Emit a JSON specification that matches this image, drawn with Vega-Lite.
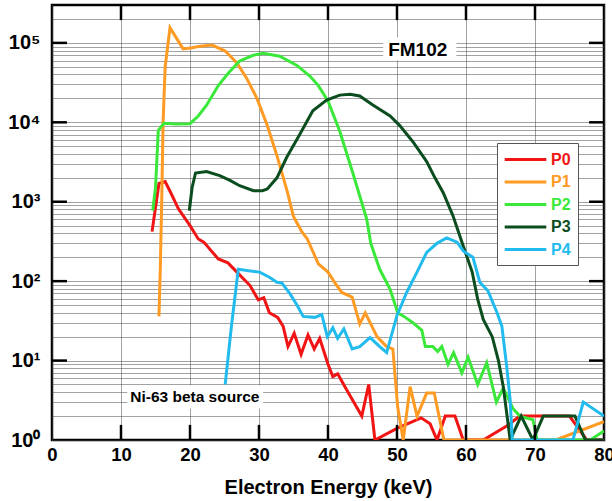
{
  "$schema": "https://vega.github.io/schema/vega-lite/v6.json",
  "width": 552,
  "height": 435,
  "autosize": "none",
  "padding": {"left": 52, "top": 5, "right": 8, "bottom": 61},
  "config": {
    "font": "Liberation Sans",
    "view": {"stroke": "black", "strokeWidth": 2.5},
    "axis": {"domain": false, "ticks": false, "gridColor": "#444", "gridDash": [1, 1], "gridWidth": 1, "labelFont": "Liberation Sans", "labelFontWeight": "bold", "labelColor": "black", "titleColor": "black"}
  },
  "datasets": {
    "spectra": [
      {"series": "P0", "energy": 14.5, "counts": 420},
      {"series": "P0", "energy": 15.5, "counts": 1700},
      {"series": "P0", "energy": 16.4, "counts": 1790},
      {"series": "P0", "energy": 17.3, "counts": 1250},
      {"series": "P0", "energy": 18.3, "counts": 820},
      {"series": "P0", "energy": 20.0, "counts": 500},
      {"series": "P0", "energy": 21.2, "counts": 340},
      {"series": "P0", "energy": 22.0, "counts": 310},
      {"series": "P0", "energy": 24.1, "counts": 190},
      {"series": "P0", "energy": 25.5, "counts": 170},
      {"series": "P0", "energy": 26.8, "counts": 130},
      {"series": "P0", "energy": 28.7, "counts": 88},
      {"series": "P0", "energy": 29.9, "counts": 58},
      {"series": "P0", "energy": 30.7, "counts": 62},
      {"series": "P0", "energy": 31.5, "counts": 40},
      {"series": "P0", "energy": 32.7, "counts": 35},
      {"series": "P0", "energy": 33.5, "counts": 27},
      {"series": "P0", "energy": 34.2, "counts": 15},
      {"series": "P0", "energy": 35.1, "counts": 22},
      {"series": "P0", "energy": 36.1, "counts": 12},
      {"series": "P0", "energy": 37.1, "counts": 21},
      {"series": "P0", "energy": 38.0, "counts": 14},
      {"series": "P0", "energy": 38.8, "counts": 19},
      {"series": "P0", "energy": 40.0, "counts": 9},
      {"series": "P0", "energy": 40.7, "counts": 6.3},
      {"series": "P0", "energy": 41.4, "counts": 6.8},
      {"series": "P0", "energy": 42.7, "counts": 4.3},
      {"series": "P0", "energy": 44.9, "counts": 2},
      {"series": "P0", "energy": 45.9, "counts": 5},
      {"series": "P0", "energy": 46.8, "counts": 1},
      {"series": "P0", "energy": 50.0, "counts": 1.4},
      {"series": "P0", "energy": 53.5, "counts": 1.9},
      {"series": "P0", "energy": 54.8, "counts": 1.6},
      {"series": "P0", "energy": 55.8, "counts": 1},
      {"series": "P0", "energy": 57.0, "counts": 2},
      {"series": "P0", "energy": 58.4, "counts": 2},
      {"series": "P0", "energy": 59.6, "counts": 1},
      {"series": "P0", "energy": 62.5, "counts": 1},
      {"series": "P0", "energy": 65.9, "counts": 1.5},
      {"series": "P0", "energy": 67.8, "counts": 2},
      {"series": "P0", "energy": 75.0, "counts": 2},
      {"series": "P0", "energy": 77.5, "counts": 1},
      {"series": "P0", "energy": 80.0, "counts": 1},

      {"series": "P1", "energy": 15.5, "counts": 36},
      {"series": "P1", "energy": 15.7, "counts": 150},
      {"series": "P1", "energy": 15.9, "counts": 1000},
      {"series": "P1", "energy": 16.1, "counts": 10000},
      {"series": "P1", "energy": 16.4, "counts": 50000},
      {"series": "P1", "energy": 17.1, "counts": 155000},
      {"series": "P1", "energy": 19.0, "counts": 84000},
      {"series": "P1", "energy": 20.3, "counts": 87000},
      {"series": "P1", "energy": 21.5, "counts": 91000},
      {"series": "P1", "energy": 23.2, "counts": 94000},
      {"series": "P1", "energy": 25.1, "counts": 79000},
      {"series": "P1", "energy": 26.8, "counts": 56000},
      {"series": "P1", "energy": 28.2, "counts": 36000},
      {"series": "P1", "energy": 29.7, "counts": 20000},
      {"series": "P1", "energy": 31.2, "counts": 9100},
      {"series": "P1", "energy": 32.6, "counts": 3800},
      {"series": "P1", "energy": 34.1, "counts": 1340},
      {"series": "P1", "energy": 35.0, "counts": 650},
      {"series": "P1", "energy": 36.2, "counts": 420},
      {"series": "P1", "energy": 37.0, "counts": 340},
      {"series": "P1", "energy": 38.6, "counts": 165},
      {"series": "P1", "energy": 40.0, "counts": 130},
      {"series": "P1", "energy": 41.0, "counts": 95},
      {"series": "P1", "energy": 42.0, "counts": 72},
      {"series": "P1", "energy": 43.5, "counts": 63},
      {"series": "P1", "energy": 44.6, "counts": 29},
      {"series": "P1", "energy": 45.4, "counts": 40},
      {"series": "P1", "energy": 47.1, "counts": 20},
      {"series": "P1", "energy": 48.5, "counts": 15},
      {"series": "P1", "energy": 49.4, "counts": 14},
      {"series": "P1", "energy": 50.1, "counts": 2.6},
      {"series": "P1", "energy": 50.9, "counts": 1},
      {"series": "P1", "energy": 51.9, "counts": 4.7},
      {"series": "P1", "energy": 52.9, "counts": 2},
      {"series": "P1", "energy": 54.3, "counts": 3.9},
      {"series": "P1", "energy": 55.4, "counts": 3.9},
      {"series": "P1", "energy": 56.8, "counts": 1},
      {"series": "P1", "energy": 73.0, "counts": 1},
      {"series": "P1", "energy": 80.0, "counts": 1.7},

      {"series": "P2", "energy": 14.6, "counts": 770},
      {"series": "P2", "energy": 15.0, "counts": 1500},
      {"series": "P2", "energy": 15.4, "counts": 7900},
      {"series": "P2", "energy": 16.2, "counts": 9700},
      {"series": "P2", "energy": 18.0, "counts": 9500},
      {"series": "P2", "energy": 20.0, "counts": 9600},
      {"series": "P2", "energy": 21.2, "counts": 12000},
      {"series": "P2", "energy": 22.4, "counts": 16400},
      {"series": "P2", "energy": 24.1, "counts": 29000},
      {"series": "P2", "energy": 25.6, "counts": 42000},
      {"series": "P2", "energy": 27.2, "counts": 59000},
      {"series": "P2", "energy": 29.2, "counts": 70000},
      {"series": "P2", "energy": 30.6, "counts": 74000},
      {"series": "P2", "energy": 33.0, "counts": 68000},
      {"series": "P2", "energy": 35.5, "counts": 52000},
      {"series": "P2", "energy": 37.4, "counts": 38000},
      {"series": "P2", "energy": 38.6, "counts": 29000},
      {"series": "P2", "energy": 40.0, "counts": 18600},
      {"series": "P2", "energy": 41.7, "counts": 7700},
      {"series": "P2", "energy": 43.6, "counts": 2300},
      {"series": "P2", "energy": 45.6, "counts": 610},
      {"series": "P2", "energy": 46.2, "counts": 300},
      {"series": "P2", "energy": 46.8, "counts": 210},
      {"series": "P2", "energy": 47.5, "counts": 141},
      {"series": "P2", "energy": 49.0, "counts": 79},
      {"series": "P2", "energy": 50.1, "counts": 40},
      {"series": "P2", "energy": 51.0, "counts": 36},
      {"series": "P2", "energy": 52.3, "counts": 30},
      {"series": "P2", "energy": 53.6, "counts": 24},
      {"series": "P2", "energy": 54.1, "counts": 15},
      {"series": "P2", "energy": 55.2, "counts": 15},
      {"series": "P2", "energy": 55.9, "counts": 13},
      {"series": "P2", "energy": 56.5, "counts": 15},
      {"series": "P2", "energy": 57.4, "counts": 9},
      {"series": "P2", "energy": 58.2, "counts": 12.6},
      {"series": "P2", "energy": 59.4, "counts": 7},
      {"series": "P2", "energy": 60.3, "counts": 11},
      {"series": "P2", "energy": 61.7, "counts": 5},
      {"series": "P2", "energy": 63.0, "counts": 9.4},
      {"series": "P2", "energy": 64.4, "counts": 3},
      {"series": "P2", "energy": 65.4, "counts": 4.5},
      {"series": "P2", "energy": 66.8, "counts": 2.5},
      {"series": "P2", "energy": 67.8, "counts": 2},
      {"series": "P2", "energy": 69.7, "counts": 1.8},
      {"series": "P2", "energy": 70.3, "counts": 1},
      {"series": "P2", "energy": 78.0, "counts": 1},
      {"series": "P2", "energy": 80.0, "counts": 1.3},

      {"series": "P3", "energy": 19.9, "counts": 770},
      {"series": "P3", "energy": 20.3, "counts": 1500},
      {"series": "P3", "energy": 20.8, "counts": 2300},
      {"series": "P3", "energy": 22.4, "counts": 2400},
      {"series": "P3", "energy": 24.3, "counts": 2130},
      {"series": "P3", "energy": 25.8, "counts": 1860},
      {"series": "P3", "energy": 27.2, "counts": 1590},
      {"series": "P3", "energy": 29.2, "counts": 1380},
      {"series": "P3", "energy": 30.5, "counts": 1380},
      {"series": "P3", "energy": 31.2, "counts": 1450},
      {"series": "P3", "energy": 32.6, "counts": 2000},
      {"series": "P3", "energy": 34.0, "counts": 3600},
      {"series": "P3", "energy": 35.9, "counts": 7000},
      {"series": "P3", "energy": 37.8, "counts": 14000},
      {"series": "P3", "energy": 39.8, "counts": 19000},
      {"series": "P3", "energy": 41.7, "counts": 22000},
      {"series": "P3", "energy": 43.2, "counts": 22500},
      {"series": "P3", "energy": 44.6, "counts": 21500},
      {"series": "P3", "energy": 46.5, "counts": 16500},
      {"series": "P3", "energy": 49.0, "counts": 12000},
      {"series": "P3", "energy": 50.4, "counts": 9100},
      {"series": "P3", "energy": 52.3, "counts": 5700},
      {"series": "P3", "energy": 54.3, "counts": 3200},
      {"series": "P3", "energy": 55.5, "counts": 2000},
      {"series": "P3", "energy": 56.7, "counts": 1300},
      {"series": "P3", "energy": 58.1, "counts": 670},
      {"series": "P3", "energy": 59.6, "counts": 277},
      {"series": "P3", "energy": 60.9, "counts": 130},
      {"series": "P3", "energy": 61.7, "counts": 59},
      {"series": "P3", "energy": 62.5, "counts": 33},
      {"series": "P3", "energy": 63.8, "counts": 20},
      {"series": "P3", "energy": 64.7, "counts": 10},
      {"series": "P3", "energy": 65.4, "counts": 4.7},
      {"series": "P3", "energy": 66.4, "counts": 1},
      {"series": "P3", "energy": 68.0, "counts": 2},
      {"series": "P3", "energy": 69.7, "counts": 1},
      {"series": "P3", "energy": 71.2, "counts": 2},
      {"series": "P3", "energy": 75.8, "counts": 2},
      {"series": "P3", "energy": 77.3, "counts": 1},
      {"series": "P3", "energy": 80.0, "counts": 1},

      {"series": "P4", "energy": 25.1, "counts": 5},
      {"series": "P4", "energy": 26.0, "counts": 27},
      {"series": "P4", "energy": 27.0, "counts": 141},
      {"series": "P4", "energy": 28.5, "counts": 135},
      {"series": "P4", "energy": 30.1, "counts": 130},
      {"series": "P4", "energy": 31.5, "counts": 112},
      {"series": "P4", "energy": 32.6, "counts": 97},
      {"series": "P4", "energy": 33.3, "counts": 95},
      {"series": "P4", "energy": 34.5, "counts": 69},
      {"series": "P4", "energy": 35.5, "counts": 50},
      {"series": "P4", "energy": 36.4, "counts": 36},
      {"series": "P4", "energy": 38.1, "counts": 35},
      {"series": "P4", "energy": 39.1, "counts": 38},
      {"series": "P4", "energy": 39.9, "counts": 20},
      {"series": "P4", "energy": 40.7, "counts": 26},
      {"series": "P4", "energy": 41.4, "counts": 19},
      {"series": "P4", "energy": 42.3, "counts": 25},
      {"series": "P4", "energy": 43.5, "counts": 14},
      {"series": "P4", "energy": 44.6, "counts": 15},
      {"series": "P4", "energy": 46.1, "counts": 19.5},
      {"series": "P4", "energy": 47.5, "counts": 15},
      {"series": "P4", "energy": 48.5, "counts": 12.6},
      {"series": "P4", "energy": 50.0, "counts": 37},
      {"series": "P4", "energy": 51.4, "counts": 72},
      {"series": "P4", "energy": 52.9, "counts": 130},
      {"series": "P4", "energy": 54.3, "counts": 230},
      {"series": "P4", "energy": 55.8, "counts": 300},
      {"series": "P4", "energy": 57.2, "counts": 350},
      {"series": "P4", "energy": 58.7, "counts": 310},
      {"series": "P4", "energy": 59.6, "counts": 240},
      {"series": "P4", "energy": 61.0, "counts": 200},
      {"series": "P4", "energy": 62.0, "counts": 97},
      {"series": "P4", "energy": 63.2, "counts": 75},
      {"series": "P4", "energy": 64.5, "counts": 40},
      {"series": "P4", "energy": 65.2, "counts": 27},
      {"series": "P4", "energy": 65.9, "counts": 8.4},
      {"series": "P4", "energy": 66.4, "counts": 3.2},
      {"series": "P4", "energy": 66.7, "counts": 1},
      {"series": "P4", "energy": 75.5, "counts": 1},
      {"series": "P4", "energy": 77.0, "counts": 3},
      {"series": "P4", "energy": 80.0, "counts": 2}
    ],
    "notes": [
      {"label": "FM102", "energy": 53, "counts": 81500},
      {"label": "Ni-63 beta source", "energy": 20.7, "counts": 3.5}
    ],
    "yticks": [{"v": 10}, {"v": 100}, {"v": 1000}, {"v": 10000}, {"v": 100000}],
    "xticks": [{"v": 10}, {"v": 20}, {"v": 30}, {"v": 40}, {"v": 50}, {"v": 60}, {"v": 70}]
  },
  "resolve": {"axis": {"x": "independent", "y": "independent"}},
  "layer": [
    {
      "data": {"values": [{}]},
      "mark": {"type": "rect", "fill": "white"},
      "encoding": {
        "x": {"datum": 48.0, "type": "quantitative", "scale": {"domain": [0, 80]}, "axis": null},
        "x2": {"datum": 58.6},
        "y": {"datum": 118000, "type": "quantitative", "scale": {"type": "log", "domain": [1, 300000]}, "axis": null},
        "y2": {"datum": 60000}
      }
    },
    {
      "data": {"values": [{}]},
      "mark": {"type": "rect", "fill": "white"},
      "encoding": {
        "x": {"datum": 10.9, "type": "quantitative", "scale": {"domain": [0, 80]}, "axis": null},
        "x2": {"datum": 30.6},
        "y": {"datum": 4.9, "type": "quantitative", "scale": {"type": "log", "domain": [1, 300000]}, "axis": null},
        "y2": {"datum": 2.5}
      }
    },
    {
      "data": {"name": "spectra"},
      "mark": {"type": "line", "strokeWidth": 3, "clip": true},
      "encoding": {
        "x": {
          "field": "energy", "type": "quantitative",
          "scale": {"domain": [0, 80]},
          "axis": {
            "orient": "bottom", "values": [0, 10, 20, 30, 40, 50, 60, 70, 80], "format": "d",
            "grid": true, "ticks": false, "labelPadding": 5, "labelFontSize": 18.5, "labelFlush": false,
            "title": "Electron Energy (keV)", "titleFontSize": 20, "titleFontWeight": "bold", "titlePadding": 14
          }
        },
        "y": {
          "field": "counts", "type": "quantitative",
          "scale": {"type": "log", "domain": [1, 300000]},
          "axis": {
            "orient": "left",
            "values": [1, 2, 3, 4, 5, 6, 7, 8, 9, 10, 20, 30, 40, 50, 60, 70, 80, 90, 100, 200, 300, 400, 500, 600, 700, 800, 900, 1000, 2000, 3000, 4000, 5000, 6000, 7000, 8000, 9000, 10000, 20000, 30000, 40000, 50000, 60000, 70000, 80000, 90000, 100000, 200000],
            "grid": true, "ticks": false, "labelPadding": 12, "labelFontSize": 20, "labelOverlap": false,
            "labelExpr": "abs(log(datum.value)/LN10 - round(log(datum.value)/LN10)) < 0.001 ? '10' + ['⁰','¹','²','³','⁴','⁵'][round(log(datum.value)/LN10)] : ''",
            "title": null
          }
        },
        "color": {
          "field": "series", "type": "nominal",
          "scale": {"domain": ["P0", "P1", "P2", "P3", "P4"], "range": ["#f01414", "#ff9a22", "#3ae83a", "#0b4d1e", "#22bbee"]},
          "legend": {
            "orient": "none", "legendX": 445, "legendY": 138, "title": null,
            "symbolType": "M-2.6,0H2.6", "symbolSize": 256, "symbolStrokeWidth": 3, "symbolOffset": 12,
            "labelOffset": 16, "labelFontSize": 16, "labelFontWeight": "bold", "labelFont": "Liberation Sans",
            "rowPadding": 4.5, "padding": 7, "strokeColor": "#555", "fillColor": "white",
            "encode": {"labels": {"update": {"fill": {"scale": "color", "field": "value"}}}}
          }
        }
      }
    },
    {
      "data": {"name": "yticks"},
      "mark": {"type": "rule", "color": "black", "strokeWidth": 2.5},
      "encoding": {
        "y": {"field": "v", "type": "quantitative", "scale": {"type": "log", "domain": [1, 300000]}, "axis": null},
        "x": {"datum": 0, "type": "quantitative", "scale": {"domain": [0, 80]}, "axis": null},
        "x2": {"datum": 2.17}
      }
    },
    {
      "data": {"name": "yticks"},
      "mark": {"type": "rule", "color": "black", "strokeWidth": 2.5},
      "encoding": {
        "y": {"field": "v", "type": "quantitative", "scale": {"type": "log", "domain": [1, 300000]}, "axis": null},
        "x": {"datum": 77.83, "type": "quantitative", "scale": {"domain": [0, 80]}, "axis": null},
        "x2": {"datum": 80}
      }
    },
    {
      "data": {"name": "xticks"},
      "mark": {"type": "rule", "color": "black", "strokeWidth": 2.5},
      "encoding": {
        "x": {"field": "v", "type": "quantitative", "scale": {"domain": [0, 80]}, "axis": null},
        "y": {"datum": 1, "type": "quantitative", "scale": {"type": "log", "domain": [1, 300000]}, "axis": null},
        "y2": {"datum": 1.55}
      }
    },
    {
      "data": {"name": "xticks"},
      "mark": {"type": "rule", "color": "black", "strokeWidth": 2.5},
      "encoding": {
        "x": {"field": "v", "type": "quantitative", "scale": {"domain": [0, 80]}, "axis": null},
        "y": {"datum": 300000, "type": "quantitative", "scale": {"type": "log", "domain": [1, 300000]}, "axis": null},
        "y2": {"datum": 193500}
      }
    },
    {
      "data": {"name": "notes"},
      "transform": [{"filter": "datum.label == 'FM102'"}],
      "mark": {"type": "text", "fontSize": 19, "fontWeight": "bold", "font": "Liberation Sans", "color": "black"},
      "encoding": {
        "x": {"field": "energy", "type": "quantitative", "scale": {"domain": [0, 80]}, "axis": null},
        "y": {"field": "counts", "type": "quantitative", "scale": {"type": "log", "domain": [1, 300000]}, "axis": null},
        "text": {"field": "label"}
      }
    },
    {
      "data": {"name": "notes"},
      "transform": [{"filter": "datum.label != 'FM102'"}],
      "mark": {"type": "text", "fontSize": 15.5, "fontWeight": "bold", "font": "Liberation Sans", "color": "black"},
      "encoding": {
        "x": {"field": "energy", "type": "quantitative", "scale": {"domain": [0, 80]}, "axis": null},
        "y": {"field": "counts", "type": "quantitative", "scale": {"type": "log", "domain": [1, 300000]}, "axis": null},
        "text": {"field": "label"}
      }
    }
  ]
}
